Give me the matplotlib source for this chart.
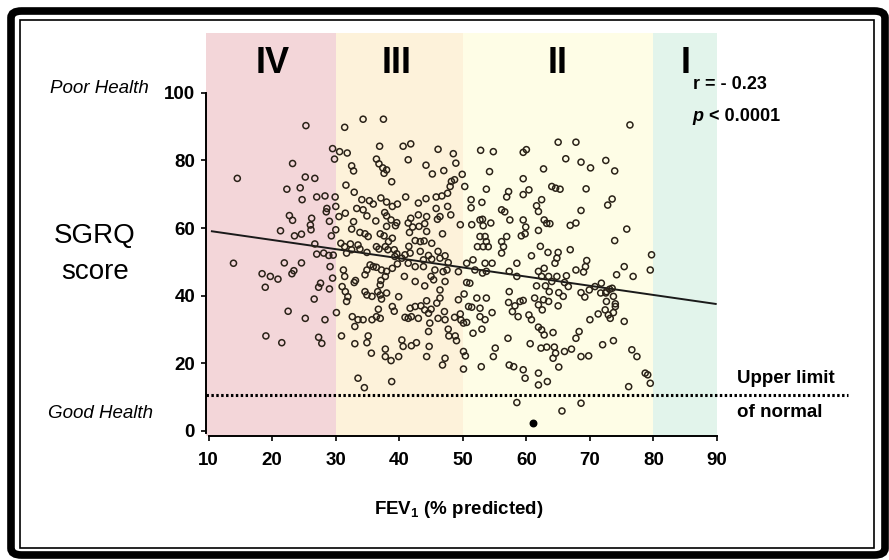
import matplotlib
matplotlib.use("Agg")
import matplotlib.pyplot as plt
from matplotlib.patches import Rectangle, FancyBboxPatch
import numpy as np

plt.rcParams['font.family'] = ['Liberation Sans', 'DejaVu Sans']
plt.rcParams['mathtext.fontset'] = 'custom'
plt.rcParams['mathtext.bf'] = 'Liberation Sans:bold'
plt.rcParams['mathtext.rm'] = 'Liberation Sans'

# GOLD stages (FEV1 % predicted boundaries)
stage_names = ['IV', 'III', 'II', 'I']
stage_edges = [9.5, 30, 50, 80, 90]
stage_colors = ['#f3d6d9', '#fdf2da', '#fefde6', '#e2f4eb']
stage_label_x = [20.0, 39.6, 64.9, 85.1]

# patients: FEV1 (% predicted) and SGRQ score
fev1 = [
    25.3, 23.2, 14.5, 25.2, 22.3, 24.4, 24.7, 22.7, 23.2, 21.3, 23.5, 24.6, 13.9, 21.9, 24.6, 23.4,
    23.1, 18.4, 19.7, 20.9, 18.9, 22.5, 25.2, 19.0, 21.5,
    29.5, 29.8, 26.7, 27.0, 28.3, 29.9, 28.6, 28.5, 30.0, 26.2, 26.0, 26.1, 29.0, 29.3, 30.0, 26.7,
    27.0, 28.1, 28.9, 29.6, 29.1, 29.5, 27.6, 27.3, 29.0, 26.6, 28.3, 30.1, 27.3, 27.8,
    30.6, 31.8, 34.3, 37.5, 31.4, 36.9, 40.6, 36.4, 36.8, 32.5, 32.8, 37.4, 38.0, 37.6, 38.8, 31.6,
    32.9, 34.1, 35.3, 35.9, 37.1, 38.0, 38.9, 39.7, 41.0, 33.3, 34.3, 34.9, 36.3, 37.7, 38.0, 38.7,
    39.4, 31.5, 30.5, 32.8, 32.5, 33.8, 34.6, 35.1, 37.0, 37.6, 38.0, 38.3, 38.9, 39.6,
    30.8, 31.4, 32.3, 33.5, 33.8, 32.5, 31.7, 34.9, 36.4, 36.8, 37.8, 38.2, 39.2, 39.6, 39.3, 40.4,
    40.9, 35.4, 35.9, 36.4, 37.2, 38.0, 37.8, 38.9, 39.7, 34.9, 34.6, 31.2, 31.4, 33.1, 32.9, 37.1,
    37.0, 40.8, 31.0, 31.5, 31.9, 31.7, 34.6, 34.9, 35.7, 36.6, 37.0, 37.2, 38.0, 39.9, 36.7, 36.4,
    38.9, 39.2, 32.6, 33.5, 33.0, 34.3, 35.7, 37.0, 40.9, 30.9, 33.0, 35.1, 34.9, 35.6, 37.8, 37.8,
    38.7, 39.9, 40.4, 40.6, 33.5, 34.5, 38.8,
    41.4, 41.8, 46.1, 48.5, 48.9, 44.2, 45.2, 47.0, 49.9, 52.8, 54.8, 54.2, 50.3, 48.2, 48.7, 48.0,
    47.6, 46.7, 45.8, 53.7, 56.9, 43.0, 44.2, 51.3, 51.3, 53.0, 56.1, 56.6, 47.6, 45.8, 46.4, 46.0,
    41.8, 43.0, 44.3, 41.4, 41.6, 42.1, 43.1, 44.0, 44.3, 46.8, 48.1, 49.6, 51.4, 52.7, 53.2, 54.4,
    53.1, 52.7, 53.5, 52.3, 53.2, 54.0, 53.7, 56.1, 56.4, 56.1, 56.9, 42.5, 43.3, 43.9, 45.1, 41.5,
    41.7, 43.3, 46.1, 47.2, 46.4, 44.6, 45.1, 43.8, 47.7, 47.5, 46.9, 49.3, 50.6, 51.9, 51.6, 53.5,
    53.7, 54.6, 53.1, 41.4, 42.5, 43.8, 45.6, 42.5, 44.0, 45.0, 45.4, 47.2, 46.4, 49.3, 50.2, 50.6,
    51.1, 52.2, 53.7, 52.7, 50.9, 51.4, 46.4, 45.9, 44.3, 43.4, 42.5, 41.7, 44.0, 45.0, 44.6, 41.9,
    43.0, 41.4, 46.1, 47.1, 47.2, 48.7, 49.6, 50.1, 49.7, 50.6, 52.7, 53.5, 54.6, 44.8, 44.6, 47.7,
    47.8, 48.8, 49.0, 51.6, 53.0, 41.9, 42.7, 44.7, 44.3, 47.2, 46.8, 50.1, 50.4, 50.1, 52.9, 55.1,
    54.8,
    65.0, 67.8, 59.5, 60.0, 66.2, 68.6, 70.1, 72.5, 62.7, 59.5, 64.0, 64.6, 65.3, 69.4, 59.5, 60.4,
    57.2, 62.4, 61.6, 61.9, 68.6, 72.8, 57.4, 59.5, 59.9, 59.2, 59.8, 62.8, 63.2, 63.7, 61.9, 66.9,
    67.8, 62.2, 63.4, 60.8, 65.0, 64.8, 64.5, 66.9, 58.5, 57.3, 58.5, 61.9, 62.8, 62.4, 67.8, 69.5,
    69.3, 63.5, 64.8, 66.3, 64.0, 66.0, 66.6, 61.6, 63.0, 63.6, 65.1, 65.8, 68.6, 69.2, 69.9, 70.8,
    71.8, 72.5, 57.3, 57.2, 59.0, 59.5, 58.2, 57.8, 58.7, 61.3, 61.9, 62.7, 62.5, 63.5, 65.0, 60.4,
    60.8, 70.0, 71.3, 72.4, 61.9, 62.4, 62.8, 64.2, 57.1, 60.6, 62.3, 63.2, 64.4, 64.6, 64.2, 66.0,
    67.1, 67.8, 68.3, 68.6, 69.8, 72.0, 65.1, 57.3, 58.0, 59.5, 59.8, 61.9, 61.9, 63.3, 58.5, 65.6,
    68.6, 69.0,
    76.3, 73.9, 73.5, 75.8, 73.9, 79.7, 79.5, 75.4, 74.2, 76.8, 72.6, 73.5, 73.7, 74.0, 72.6, 72.9,
    73.7, 73.2, 75.4, 73.7, 76.6, 77.4, 78.7, 79.5, 79.1, 76.1, 71.7, 73.1, 74.0,
]
sgrq = [
    90.3, 79.1, 74.7, 75.1, 71.5, 71.9, 68.4, 63.7, 62.3, 59.2, 57.7, 58.2, 49.6, 49.7, 49.7, 47.4,
    46.5, 46.5, 45.7, 44.9, 42.5, 35.4, 33.3, 28.1, 26.1,
    83.5, 80.4, 74.7, 69.2, 69.5, 69.2, 65.8, 64.8, 66.4, 62.9, 60.9, 59.5, 62.0, 57.7, 59.5, 55.3,
    52.3, 52.6, 51.9, 52.0, 48.6, 45.2, 43.7, 42.5, 42.0, 39.0, 32.9, 35.0, 27.7, 25.9,
    82.6, 82.2, 92.2, 92.2, 89.8, 84.2, 84.2, 80.4, 79.0, 78.4, 76.9, 77.8, 77.2, 76.2, 73.7, 72.7,
    70.6, 68.4, 68.1, 67.1, 68.9, 67.7, 66.4, 67.1, 69.2, 65.8, 65.4, 63.6, 62.1, 64.6, 63.6, 62.4,
    60.7, 64.4, 63.4, 61.9, 59.7, 58.7, 58.3, 57.5, 58.3, 57.7, 60.5, 56.0, 57.0, 61.6,
    55.5, 54.5, 55.3, 55.0, 53.8, 53.6, 52.6, 52.8, 54.5, 53.8, 54.5, 53.6, 53.6, 52.4, 51.6, 51.1,
    52.1, 49.1, 48.6, 48.4, 47.6, 47.2, 45.7, 48.1, 49.4, 47.6, 46.2, 47.6, 45.7, 44.5, 43.9, 44.5,
    43.2, 45.7, 42.7, 41.2, 39.7, 38.3, 41.2, 40.2, 39.8, 41.2, 40.2, 39.0, 40.8, 39.7, 36.0, 33.8,
    36.8, 35.4, 33.8, 32.9, 30.9, 32.9, 32.9, 33.3, 33.6, 28.1, 25.8, 28.1, 26.1, 23.0, 24.2, 22.0,
    20.8, 22.0, 26.9, 25.0, 15.6, 12.8, 14.6,
    80.2, 84.9, 83.3, 82.0, 79.2, 78.6, 76.0, 77.0, 75.9, 83.0, 82.6, 76.7, 72.3, 73.8, 74.3, 72.3,
    70.3, 69.5, 69.2, 71.5, 69.2, 67.4, 68.7, 68.4, 66.0, 67.6, 65.4, 64.8, 66.4, 65.8, 63.4, 62.6,
    62.9, 63.9, 63.4, 61.5, 58.7, 60.3, 60.5, 61.3, 59.0, 58.3, 63.9, 61.0, 61.0, 62.4, 60.7, 61.5,
    62.6, 57.5, 57.5, 54.5, 54.5, 54.5, 56.0, 56.0, 54.5, 52.6, 57.5, 56.3, 56.0, 56.2, 55.5, 54.6,
    52.6, 53.1, 53.1, 51.8, 51.1, 51.9, 50.8, 50.6, 49.8, 47.6, 47.1, 47.1, 49.6, 47.6, 50.6, 49.6,
    47.2, 49.6, 46.7, 49.6, 48.6, 48.6, 47.6, 44.2, 42.9, 45.7, 44.7, 44.2, 41.7, 38.8, 40.5, 43.9,
    43.7, 39.3, 39.3, 36.3, 36.8, 36.6, 39.3, 37.8, 38.5, 37.0, 36.8, 36.3, 35.8, 36.0, 34.8, 33.8,
    33.3, 33.3, 33.3, 35.3, 32.9, 33.6, 34.6, 31.9, 32.8, 32.1, 33.8, 32.9, 35.0, 31.9, 29.4, 30.1,
    28.1, 28.1, 26.7, 28.9, 30.1, 25.2, 26.1, 25.0, 22.0, 21.5, 19.5, 23.5, 22.2, 18.3, 19.0, 24.5,
    22.0,
    85.4, 85.4, 82.4, 83.2, 80.5, 79.5, 77.8, 80.0, 77.5, 74.6, 72.3, 71.8, 71.5, 71.6, 69.9, 71.3,
    70.8, 68.4, 66.6, 64.9, 65.2, 66.8, 62.4, 62.4, 60.3, 57.7, 58.3, 62.4, 61.4, 61.3, 59.3, 60.8,
    61.5, 54.6, 52.8, 51.8, 52.8, 51.1, 49.6, 53.6, 49.6, 47.2, 45.7, 47.2, 48.1, 45.7, 47.6, 50.4,
    48.6, 45.7, 45.7, 45.9, 44.2, 43.9, 42.7, 42.9, 42.9, 41.2, 40.9, 39.8, 40.9, 39.6, 41.7, 42.7,
    43.7, 40.8, 41.2, 38.0, 38.3, 38.6, 37.0, 35.3, 33.8, 39.3, 37.3, 38.8, 35.8, 38.3, 37.0, 34.3,
    32.9, 32.9, 34.6, 35.8, 30.7, 29.9, 28.4, 29.1, 27.4, 25.8, 24.5, 24.8, 24.8, 23.0, 21.5, 23.5,
    24.2, 27.4, 29.4, 22.0, 22.2, 25.5, 18.9, 19.5, 19.0, 18.1, 15.6, 17.1, 13.6, 14.6, 8.4, 5.9,
    8.2, 47.0,
    90.5, 76.9, 68.6, 59.7, 56.3, 52.1, 47.6, 48.6, 46.2, 45.7, 41.2, 42.2, 39.8, 37.6, 38.3, 34.3,
    35.0, 33.3, 32.4, 26.7, 24.0, 22.0, 17.1, 14.1, 16.6, 13.1, 40.8, 41.9, 36.8,
]
# the single filled point
fev1_filled = [61.1]
sgrq_filled = [2.3]

# regression line
fit_intercept = 61.9   # SGRQ at FEV1 = 0
fit_slope = -0.271
fit_range = [10.5, 89.8]

upper_limit_normal = 10.6

fig = plt.figure(figsize=(8.89, 5.6), dpi=100)
ax = fig.add_axes([0.2312, 0.2214, 0.5753, 0.7197])

for lo, hi, c in zip(stage_edges[:-1], stage_edges[1:], stage_colors):
    ax.axvspan(lo, hi, color=c, lw=0, zorder=0)
for name, x in zip(stage_names, stage_label_x):
    ax.text(x, 108.7, name, ha='center', va='center', fontsize=26, fontweight='bold')

xs = np.array(fit_range)
ax.plot(xs, fit_intercept + fit_slope * xs, color='#1a1a1a', lw=1.4, zorder=3)
ax.plot([9.5, 110.6], [upper_limit_normal, upper_limit_normal], color='black',
        lw=2.2, ls=(0, (0.8, 0.8)), clip_on=False, zorder=3)

ax.scatter(fev1, sgrq, s=19, facecolors='none', edgecolors='#2a2218', linewidths=1.1, zorder=4)
ax.scatter(fev1_filled, sgrq_filled, s=22, color='black', zorder=4)

ax.set_xlim(9.5, 90.0)
ax.set_ylim(-1.5, 117.7)
ax.set_xticks(range(10, 91, 10))
ax.set_yticks(range(0, 101, 20))
ax.spines['top'].set_visible(False)
ax.spines['right'].set_visible(False)
ax.spines['left'].set_bounds(-0.5, 100)
ax.spines['bottom'].set_bounds(10, 90)
for s in ['left', 'bottom']:
    ax.spines[s].set_linewidth(1.4)
ax.tick_params(direction='out', length=3.5, width=1.2, labelsize=13.5, pad=4)
for lab in ax.get_xticklabels() + ax.get_yticklabels():
    lab.set_fontweight('bold')
ax.tick_params(axis='x', pad=8)

ax.text(86.2, 102.4, 'r = - 0.23', ha='left', va='center', fontsize=13, fontweight='bold')
tp = ax.text(86.2, 92.9, 'p', ha='left', va='center', fontsize=13, fontweight='bold', style='italic')
ax.annotate(' < 0.0001', xy=(1, 0), xycoords=tp, ha='left', va='bottom',
            fontsize=13, fontweight='bold')
ax.text(93.1, 15.4, 'Upper limit', ha='left', va='center', fontsize=13.5, fontweight='bold')
ax.text(93.1, 5.5, 'of normal', ha='left', va='center', fontsize=13.5, fontweight='bold')

fig.text(0.167, 0.842, 'Poor Health', ha='right', va='center', fontsize=13.5, style='italic')
fig.text(0.172, 0.261, 'Good Health', ha='right', va='center', fontsize=13.5, style='italic')
fig.text(0.107, 0.579, 'SGRQ', ha='center', va='center', fontsize=20)
fig.text(0.107, 0.514, 'score', ha='center', va='center', fontsize=20)
fig.text(0.516, 0.091, r'FEV$_\mathbf{1}$ (% predicted)', ha='center', va='center',
         fontsize=13.5, fontweight='bold')

# double frame round the picture
fig.patches.append(FancyBboxPatch((11 / 889, 5 / 560), 874 / 889, 544 / 560,
                                  boxstyle='round,pad=0,rounding_size=0.012',
                                  transform=fig.transFigure, fill=False,
                                  ec='black', lw=5.5))
fig.patches.append(Rectangle((19.5 / 889, 12 / 560), 854.5 / 889, 528.5 / 560,
                             transform=fig.transFigure, fill=False, ec='black', lw=1.2))

fig.savefig('out.png', dpi=100)
